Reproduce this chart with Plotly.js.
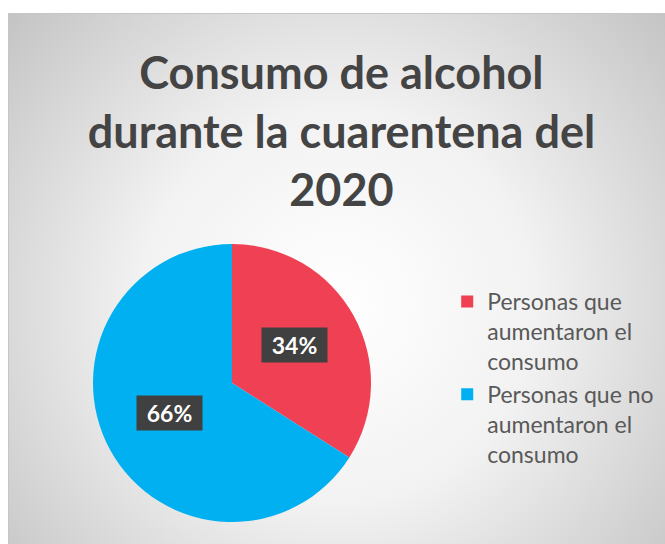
<!DOCTYPE html>
<html>
<head>
<meta charset="utf-8">
<script src="https://cdn.plot.ly/plotly-3.0.1.min.js"></script>
<style>
  html, body { margin: 0; padding: 0; background: #ffffff; width: 665px; height: 544px; overflow: hidden; }
  #chart {
    position: absolute; left: 8px; top: 13px; width: 657px; height: 531px;
    background: radial-gradient(circle farthest-corner at 50% 55%, #ffffff 0%, #f2f2f2 45%, #c4c4c4 100%);
    border-left: 1px solid #c6c6c6; border-top: 1px solid #c6c6c6;
  }
</style>
</head>
<body>
<div id="chart"></div>
<script>
// ---- data ----
const titleText = "Consumo de alcohol<br>durante la cuarentena del<br>2020";
const categories = ["Personas que<br>aumentaron el<br>consumo", "Personas que no<br>aumentaron el<br>consumo"];
const values = [34, 66];
const colors = ["#EF4054", "#00B0F0"];

// ---- geometry (style) ----
const W = 657, H = 531;
const cxPx = 223, cyPx = 369, rPx = 139;   // pie center/radius in px (top-left origin)
const domX = [(cxPx - rPx) / W, (cxPx + rPx) / W];
const domY = [(H - cyPx - rPx) / H, (H - cyPx + rPx) / H];

const total = values.reduce((a, b) => a + b, 0);
const annotations = [];
let cum = 0;
values.forEach((v, i) => {
  const mid = (cum + v / 2) / total * 2 * Math.PI; // clockwise from 12 o'clock
  cum += v;
  const xPx = cxPx + 0.51 * rPx * Math.sin(mid);
  const yPx = cyPx - 0.51 * rPx * Math.cos(mid);
  annotations.push({
    xref: 'paper', yref: 'paper',
    x: xPx / W, y: 1 - yPx / H,
    xanchor: 'center', yanchor: 'middle',
    yshift: 4,
    text: '<b>' + Math.round(v / total * 100) + '%</b>',
    showarrow: false,
    font: { family: 'Lato, sans-serif', size: 23, color: '#ffffff' },
    bgcolor: '#404040',
    width: 63, height: 32,
    borderpad: 1
  });
});

const trace = {
  type: 'pie',
  labels: categories,
  values: values,
  marker: { colors: colors, line: { width: 0 } },
  sort: false,
  direction: 'clockwise',
  rotation: 0,
  textinfo: 'none',
  hoverinfo: 'label+percent',
  domain: { x: domX, y: domY }
};

const layout = {
  width: W, height: H,
  margin: { l: 0, r: 0, t: 0, b: 0 },
  paper_bgcolor: 'rgba(0,0,0,0)',
  plot_bgcolor: 'rgba(0,0,0,0)',
  title: {
    text: '<b>' + titleText + '</b>',
    font: { family: 'Lato, sans-serif', size: 45, color: '#444444' },
    x: 0.506, xanchor: 'center',
    y: 0.858, yanchor: 'top', yref: 'container'
  },
  showlegend: true,
  legend: {
    x: 0.667, xanchor: 'left',
    y: 0.3145, yanchor: 'middle',
    valign: 'top',
    font: { family: 'Lato, sans-serif', size: 23, color: '#595959' },
    bgcolor: 'rgba(0,0,0,0)'
  },
  annotations: annotations
};

Plotly.newPlot('chart', [trace], layout, { displayModeBar: false, staticPlot: true });
</script>
</body>
</html>
